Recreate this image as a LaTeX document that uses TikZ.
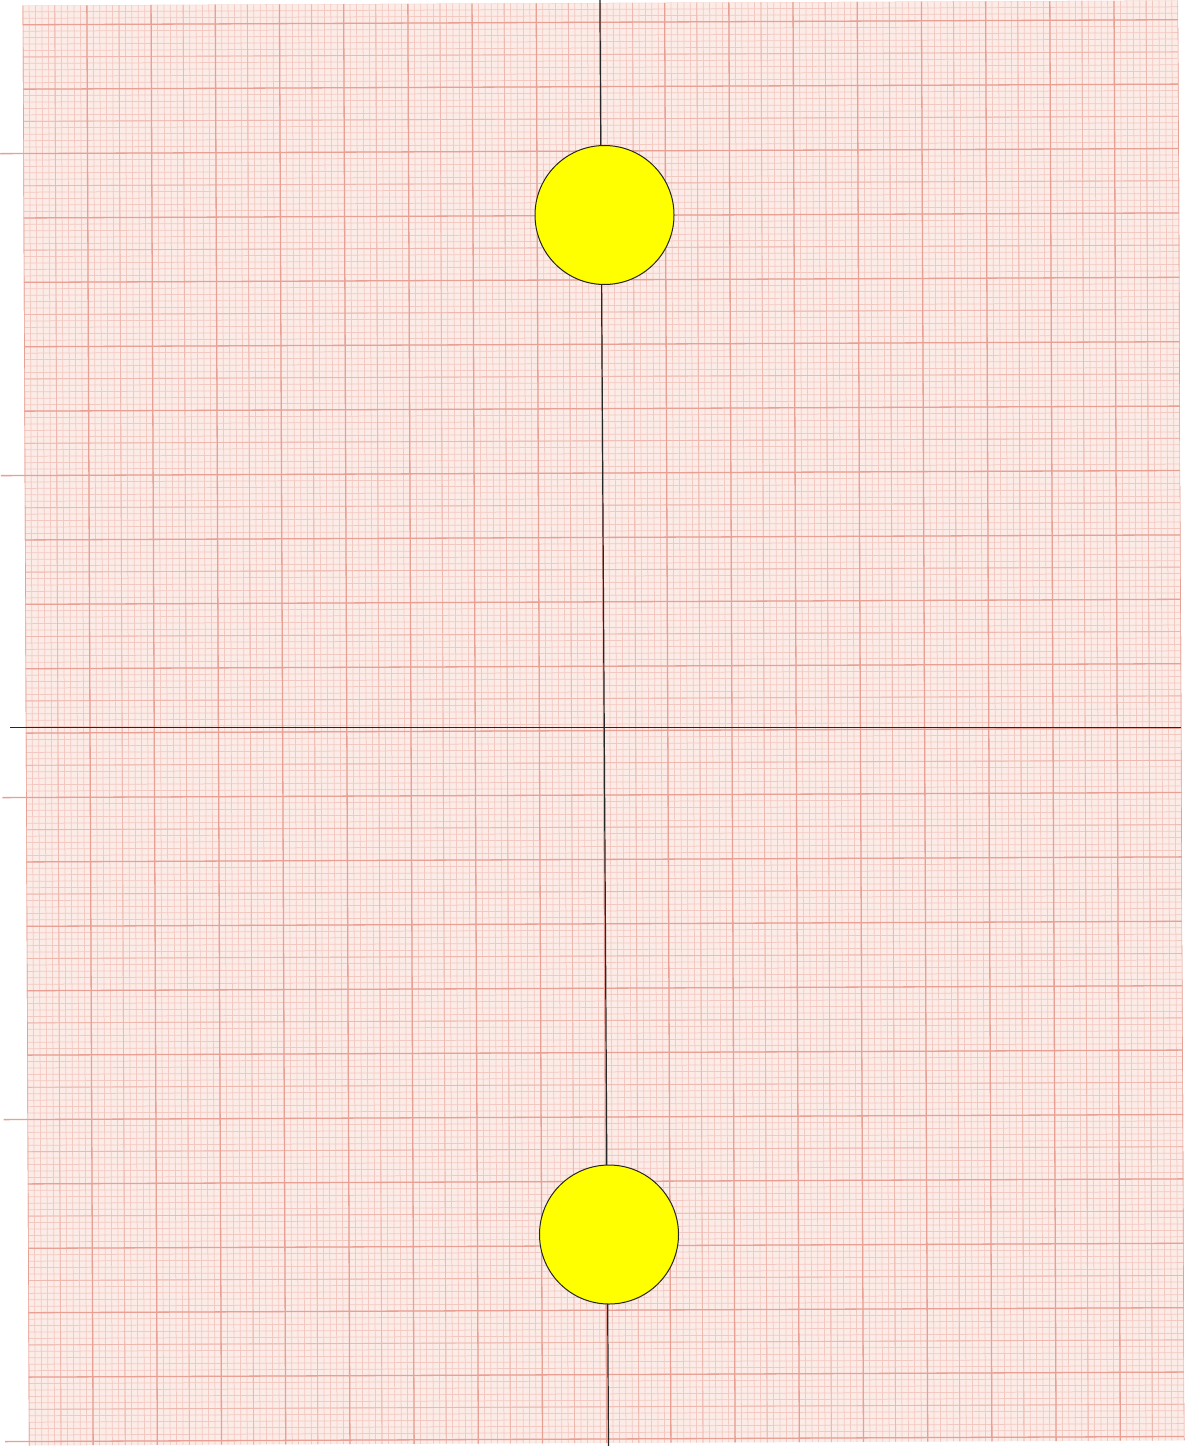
\documentclass[tikz,border=0pt]{standalone}
\begin{document}
\begin{tikzpicture}[x=1pt,y=-1pt,
  paperfill/.style={fill=paperbg,draw=none},
  minorline/.style={draw=minorc,line width=0.75pt},
  halfline/.style={draw=halfc,line width=0.9pt},
  majorline/.style={draw=majorc,line width=1.3pt},
  axisline/.style={draw=black!85,line width=1.2pt},
  disc/.style={circle,fill=discyellow,draw=black!85,line width=1pt,minimum size=139pt,inner sep=0pt}]
\definecolor{paperbg}{RGB}{252,236,232}
\definecolor{minorc}{RGB}{243,200,192}
\definecolor{halfc}{RGB}{238,184,174}
\definecolor{majorc}{RGB}{233,160,148}
\definecolor{discyellow}{RGB}{255,255,0}
\useasboundingbox (0,0) rectangle (1198,1446);
\fill[white] (0,0) rectangle (1198,1446);
\begin{scope}[rotate around={0.25:(604,727)}]
  \path[paperfill] (25.8,3) rectangle (1181.4,1443);
  \begin{scope}
    \clip (25.8,3) rectangle (1181.4,1443);
    \foreach \k in {-10,...,170} \draw[minorline] ({90+\k*6.42},3) -- ({90+\k*6.42},1443);
    \foreach \k in {-3,...,220} \draw[minorline] (25.8,{22.2+\k*6.44}) -- (1181.4,{22.2+\k*6.44});
    \foreach \k in {-5,5,...,165} \draw[halfline] ({90+\k*6.42},3) -- ({90+\k*6.42},1443);
    \foreach \k in {5,15,...,215} \draw[halfline] (25.8,{22.2+\k*6.44}) -- (1181.4,{22.2+\k*6.44});
    \foreach \k in {-10,0,...,170} \draw[majorline] ({90+\k*6.42},3) -- ({90+\k*6.42},1443);
    \foreach \k in {0,10,...,220} \draw[majorline] (25.8,{22.2+\k*6.44}) -- (1181.4,{22.2+\k*6.44});
  \end{scope}
  \foreach \k in {20,70,...,220} \draw[majorline] (2,{22.2+\k*6.44}) -- (25.8,{22.2+\k*6.44});
\end{scope}
% axes
\coordinate (vtop) at (599.9,0);
\coordinate (vbot) at (608.5,1446);
\coordinate (hleft) at (10,727.5);
\coordinate (hright) at (1181,727.5);
\draw[axisline] (vtop) -- (vbot);
\draw[axisline] (hleft) -- (hright);
% discs
\node[disc] (top) at (604.5,215) {};
\node[disc] (bottom) at (609,1234.5) {};
\end{tikzpicture}
\end{document}
